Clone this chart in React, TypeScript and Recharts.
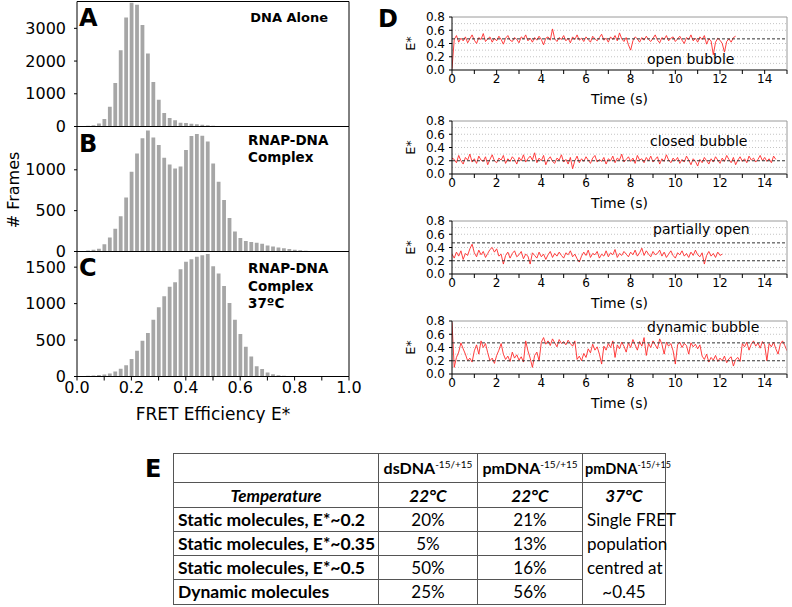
import React from "react";
import { BarChart, Bar, LineChart, Line, XAxis, YAxis, ReferenceLine } from "recharts";

// FRET histogram bins (bin centres, E*)
const binCenters = [
  0.0, 0.02, 0.04, 0.06, 0.08, 0.1, 0.12, 0.14, 0.16, 0.18,
  0.2, 0.22, 0.24, 0.26, 0.28, 0.3, 0.32, 0.34, 0.36, 0.38,
  0.4, 0.42, 0.44, 0.46, 0.48, 0.5, 0.52, 0.54, 0.56, 0.58,
  0.6, 0.62, 0.64, 0.66, 0.68, 0.7, 0.72, 0.74, 0.76, 0.78,
  0.8, 0.82, 0.84, 0.86, 0.88, 0.9, 0.92, 0.94, 0.96, 0.98,
];

const dnaAlone = [
  0, 15, 20, 40, 90, 230, 600, 1330, 2330, 3330,
  3780, 3720, 3100, 2230, 1360, 820, 410, 260, 190, 115,
  105, 85, 70, 50, 40, 25, 15, 10, 8, 5,
  0, 0, 0, 0, 0, 0, 0, 0, 0, 0,
  0, 0, 0, 0, 0, 0, 0, 0, 0, 0,
];

const rnapDna = [
  0, 5, 12, 20, 33, 90, 172, 279, 430, 660,
  976, 1200, 1386, 1480, 1394, 1304, 1148, 1066, 1017, 1041,
  1242, 1414, 1439, 1418, 1345, 1078, 853, 631, 410, 246,
  164, 127, 115, 107, 94, 74, 60, 50, 40, 30,
  22, 15, 10, 6, 4, 2, 0, 0, 0, 0,
];

const rnapDna37 = [
  0, 5, 9, 14, 19, 28, 42, 70, 106, 153,
  241, 352, 491, 597, 778, 949, 1102, 1232, 1292, 1472,
  1574, 1607, 1644, 1662, 1681, 1514, 1412, 1241, 1009, 778,
  583, 407, 273, 139, 102, 56, 30, 18, 12, 8,
  5, 3, 2, 1, 1, 0, 0, 0, 0, 0,
];

const eTicks = [0, 0.1, 0.2, 0.3, 0.4, 0.5, 0.6, 0.7, 0.8, 0.9, 1.0];

// single-molecule traces, one value every FRAME_S seconds
const FRAME_S = 0.1;

const openBubble = [
  0.02, 0.46, 0.52, 0.42, 0.48, 0.44, 0.5, 0.41, 0.47, 0.53,
  0.45, 0.4, 0.49, 0.46, 0.55, 0.43, 0.47, 0.5, 0.42, 0.48,
  0.44, 0.51, 0.46, 0.39, 0.48, 0.52, 0.45, 0.43, 0.49, 0.46,
  0.41, 0.5, 0.47, 0.53, 0.44, 0.48, 0.42, 0.49, 0.45, 0.51,
  0.46, 0.38, 0.48, 0.5, 0.45, 0.62, 0.47, 0.43, 0.49, 0.46,
  0.52, 0.44, 0.48, 0.41, 0.5, 0.46, 0.53, 0.45, 0.48, 0.43,
  0.5, 0.46, 0.42, 0.51, 0.47, 0.44, 0.49, 0.54, 0.45, 0.48,
  0.42, 0.5, 0.46, 0.52, 0.44, 0.56, 0.47, 0.43, 0.49, 0.38,
  0.3, 0.44, 0.5, 0.47, 0.42, 0.49, 0.45, 0.51, 0.46, 0.43,
  0.48, 0.53, 0.45, 0.41, 0.49, 0.46, 0.52, 0.44, 0.48, 0.5,
  0.43, 0.47, 0.51, 0.45, 0.4, 0.49, 0.46, 0.53, 0.44, 0.48,
  0.42, 0.5, 0.46, 0.52, 0.39, 0.47, 0.44, 0.23, 0.42, 0.48,
  0.45, 0.4, 0.27, 0.43, 0.47, 0.42, 0.49, 0.51,
];

const closedBubble = [
  0.24, 0.22, 0.17, 0.28, 0.2, 0.15, 0.25, 0.21, 0.3, 0.18,
  0.23, 0.16, 0.27, 0.21, 0.19, 0.26, 0.14, 0.22, 0.29, 0.2,
  0.17, 0.24, 0.21, 0.28, 0.16, 0.23, 0.19, 0.26, 0.22, 0.15,
  0.25, 0.2, 0.29, 0.18, 0.23, 0.27, 0.21, 0.32, 0.17, 0.24,
  0.2, 0.28, 0.14, 0.22, 0.26, 0.19, 0.16, 0.24, 0.21, 0.29,
  0.18, 0.22, 0.15, 0.25, 0.08, 0.2, 0.27, 0.17, 0.23, 0.19,
  0.26, 0.21, 0.16, 0.24, 0.28, 0.18, 0.22, 0.19, 0.25, 0.15,
  0.23, 0.2, 0.27, 0.17, 0.24, 0.21, 0.3, 0.18, 0.22, 0.26,
  0.19, 0.24, 0.16, 0.28, 0.21, 0.23, 0.17, 0.25, 0.2, 0.27,
  0.18, 0.22, 0.26, 0.15, 0.23, 0.19, 0.29, 0.21, 0.17, 0.24,
  0.2, 0.25, 0.16, 0.22, 0.18, 0.27, 0.21, 0.14, 0.23, 0.19,
  0.12, 0.22, 0.17, 0.25, 0.2, 0.15, 0.23, 0.18, 0.26, 0.21,
  0.16, 0.24, 0.19, 0.28, 0.22, 0.17, 0.25, 0.14, 0.21, 0.26,
  0.19, 0.23, 0.17, 0.27, 0.21, 0.24, 0.18, 0.22, 0.28, 0.2,
  0.25, 0.19, 0.23, 0.17, 0.27, 0.22,
];

const partiallyOpen = [
  0.3, 0.24, 0.33, 0.27, 0.35, 0.22, 0.31, 0.28, 0.38, 0.45,
  0.32, 0.26, 0.36, 0.29, 0.34, 0.25, 0.31, 0.37, 0.4, 0.33,
  0.38, 0.27, 0.3, 0.15, 0.28, 0.33, 0.24, 0.31, 0.35, 0.26,
  0.29, 0.34, 0.23, 0.3, 0.27, 0.15, 0.32, 0.28, 0.24, 0.33,
  0.26, 0.3, 0.22, 0.29, 0.34, 0.25, 0.31, 0.27, 0.33, 0.28,
  0.24, 0.32, 0.29, 0.35, 0.26, 0.3, 0.23, 0.18, 0.27, 0.33,
  0.28, 0.36, 0.25, 0.31, 0.29, 0.34, 0.24, 0.3, 0.27, 0.35,
  0.26, 0.32, 0.29, 0.37, 0.25, 0.31, 0.28, 0.34, 0.3, 0.26,
  0.33, 0.29, 0.36, 0.27, 0.32, 0.39, 0.28, 0.35, 0.3, 0.26,
  0.34, 0.29, 0.31, 0.36, 0.27, 0.33, 0.25, 0.3, 0.35, 0.28,
  0.24, 0.32, 0.29, 0.35, 0.27, 0.31, 0.25, 0.33, 0.28, 0.36,
  0.29, 0.26, 0.32, 0.15, 0.28, 0.34, 0.27, 0.31, 0.25, 0.33,
  0.28, 0.3,
];

const dynamicBubble = [
  0.78, 0.1, 0.25, 0.33, 0.47, 0.38, 0.3, 0.2, 0.24, 0.18,
  0.35, 0.44, 0.3, 0.5, 0.4, 0.46, 0.32, 0.2, 0.24, 0.16,
  0.28, 0.36, 0.46, 0.3, 0.22, 0.27, 0.19, 0.33, 0.24, 0.29,
  0.21, 0.26, 0.18, 0.5, 0.35, 0.24, 0.1, 0.28, 0.33, 0.2,
  0.48, 0.55, 0.45, 0.5, 0.43, 0.53, 0.47, 0.41, 0.52, 0.46,
  0.49, 0.44, 0.51, 0.46, 0.42, 0.5, 0.22, 0.27, 0.2, 0.31,
  0.25, 0.38, 0.32, 0.45, 0.36, 0.41, 0.3, 0.15, 0.42, 0.36,
  0.46, 0.4, 0.5, 0.25, 0.44, 0.38, 0.48, 0.42, 0.33, 0.47,
  0.4, 0.52, 0.44, 0.36, 0.49, 0.42, 0.55, 0.28, 0.46, 0.4,
  0.5, 0.44, 0.38, 0.53, 0.45, 0.3, 0.48, 0.42, 0.46, 0.35,
  0.15, 0.44, 0.48, 0.4, 0.46, 0.43, 0.3, 0.47, 0.41, 0.45,
  0.38, 0.44, 0.27, 0.22, 0.3, 0.18, 0.25, 0.21, 0.28, 0.19,
  0.24, 0.2, 0.27, 0.17, 0.23, 0.26, 0.12, 0.22, 0.25, 0.19,
  0.46, 0.41, 0.48, 0.36, 0.45, 0.5, 0.42, 0.47, 0.39, 0.49,
  0.44, 0.2, 0.46, 0.41, 0.48, 0.38, 0.3, 0.45, 0.5, 0.43,
  0.35,
];

const timeTicks = [0, 1, 2, 3, 4, 5, 6, 7, 8, 9, 10, 11, 12, 13, 14, 15];
const eStarTicks = [0, 0.2, 0.4, 0.6, 0.8];

// table E
const tableRowLabels = [
  "Static molecules, E*~0.2",
  "Static molecules, E*~0.35",
  "Static molecules, E*~0.5",
  "Dynamic molecules",
];
const dsDnaPct = ["20%", "5%", "50%", "25%"];
const pmDnaPct = ["21%", "13%", "16%", "56%"];
const pm37Lines = ["Single FRET", "population", "centred at", "~0.45"];

const histData = binCenters.map((e, i) => ({
  e,
  a: dnaAlone[i],
  b: rnapDna[i],
  c: rnapDna37[i],
}));

const FONT = "DejaVu Sans";

function Histogram({
  top,
  dataKey,
  yMax,
  yTicks,
  showX,
  marginTop,
}: {
  top: number;
  dataKey: string;
  yMax: number;
  yTicks: number[];
  showX: boolean;
  marginTop: number;
}) {
  const xHeight = showX ? 46 : 8;
  return (
    <div style={{ position: "absolute", left: 0, top }}>
      <BarChart
        width={372}
        height={marginTop + 125 + xHeight}
        data={histData}
        margin={{ top: marginTop, right: 23, bottom: 0, left: 0 }}
      >
        <XAxis
          dataKey="e"
          type="number"
          domain={[0, 1]}
          ticks={eTicks}
          interval={0}
          allowDataOverflow
          height={xHeight}
          stroke="#000"
          tickSize={4}
          tickMargin={1}
          tick={showX ? { fill: "#000", fontSize: 16, fontFamily: FONT } : false}
          tickFormatter={(v: number) =>
            Math.round(v * 10) % 2 === 0 ? v.toFixed(1) : ""
          }
          label={
            showX
              ? {
                  value: "FRET Efficiency E*",
                  position: "insideBottom",
                  offset: 3,
                  style: { fill: "#000", fontSize: 17, fontFamily: FONT },
                }
              : undefined
          }
        />
        <XAxis
          xAxisId="top"
          orientation="top"
          mirror
          type="number"
          domain={[0, 1]}
          ticks={eTicks}
          interval={0}
          allowDataOverflow
          stroke="#000"
          tickSize={4}
          tick={false}
        />
        <YAxis
          type="number"
          domain={[0, yMax]}
          ticks={yTicks}
          interval={0}
          allowDataOverflow
          width={77}
          stroke="#000"
          tickSize={3}
          tickMargin={8}
          tick={{ fill: "#000", fontSize: 16, fontFamily: FONT }}
        />
        <YAxis
          yAxisId="right"
          orientation="right"
          mirror
          type="number"
          domain={[0, yMax]}
          ticks={yTicks}
          interval={0}
          allowDataOverflow
          stroke="#000"
          tickSize={4}
          tick={false}
        />
        <Bar dataKey={dataKey} fill="#a6a6a6" barSize={3.8} isAnimationActive={false} />
      </BarChart>
    </div>
  );
}

function TracePanel({
  top,
  values,
  dashed,
}: {
  top: number;
  values: number[];
  dashed: number[];
}) {
  const data = values.map((v, i) => ({ t: Math.round(i * FRAME_S * 100) / 100, v }));
  const grid = [0.1, 0.2, 0.3, 0.4, 0.5, 0.6, 0.7].filter(
    (g) => !dashed.some((d) => Math.abs(d - g) < 0.05)
  );
  return (
    <div style={{ position: "absolute", left: 400, top }}>
      <LineChart
        width={392}
        height={100}
        data={data}
        margin={{ top: 7, right: 5, bottom: 0, left: 0 }}
      >
        <XAxis
          dataKey="t"
          type="number"
          domain={[0, 15]}
          ticks={timeTicks}
          interval={0}
          allowDataOverflow
          height={40}
          stroke="#000"
          tickSize={4}
          tickMargin={0}
          tick={{ fill: "#000", fontSize: 12, fontFamily: FONT }}
          tickFormatter={(v: number) => (v % 2 === 0 && v < 15 ? String(v) : "")}
          label={{
            value: "Time (s)",
            position: "insideBottom",
            offset: 6,
            style: { fill: "#000", fontSize: 14, fontFamily: FONT },
          }}
        />
        <XAxis
          xAxisId="top"
          orientation="top"
          mirror
          type="number"
          domain={[0, 15]}
          ticks={timeTicks}
          allowDataOverflow
          stroke="#9a9a9a"
          tickLine={false}
          tick={false}
        />
        <YAxis
          type="number"
          domain={[0, 0.8]}
          ticks={eStarTicks}
          interval={0}
          allowDataOverflow
          width={52}
          stroke="#000"
          tickSize={3}
          tickMargin={4}
          tick={{ fill: "#000", fontSize: 12, fontFamily: FONT }}
          tickFormatter={(v: number) => v.toFixed(1)}
          label={{
            value: "E*",
            angle: -90,
            position: "insideLeft",
            offset: 10,
            style: { fill: "#000", fontSize: 13, fontFamily: FONT, textAnchor: "middle" },
          }}
        />
        <YAxis
          yAxisId="right"
          orientation="right"
          mirror
          type="number"
          domain={[0, 0.8]}
          ticks={[0, 0.1, 0.2, 0.3, 0.4, 0.5, 0.6, 0.7, 0.8]}
          interval={0}
          allowDataOverflow
          stroke="#9a9a9a"
          tickSize={3}
          tick={false}
        />
        {grid.map((g) => (
          <ReferenceLine key={`g${g}`} y={g} stroke="#c4c4c4" strokeDasharray="1 2" />
        ))}
        <Line
          dataKey="v"
          stroke="#ff2a2a"
          strokeWidth={0.9}
          dot={false}
          isAnimationActive={false}
        />
        {dashed.map((d) => (
          <ReferenceLine key={`d${d}`} y={d} stroke="#333" strokeDasharray="3 2" />
        ))}
      </LineChart>
    </div>
  );
}

const cell: React.CSSProperties = {
  border: "1px solid #555",
  padding: "0 4px",
  textAlign: "center",
  whiteSpace: "nowrap",
};

const sup: React.CSSProperties = { fontSize: 10, fontWeight: 400 };

function ResultsTable() {
  return (
    <table
      style={{
        position: "absolute",
        left: 173,
        top: 453,
        borderCollapse: "collapse",
        fontFamily: "Lato",
        fontSize: 17,
        color: "#000",
        tableLayout: "fixed",
        width: 492,
      }}
    >
      <colgroup>
        <col style={{ width: 205 }} />
        <col style={{ width: 99 }} />
        <col style={{ width: 105 }} />
        <col style={{ width: 83 }} />
      </colgroup>
      <tbody>
        <tr style={{ height: 29, fontWeight: 700, fontSize: 16 }}>
          <td style={cell}></td>
          <td style={{ ...cell, padding: 0 }}>
            dsDNA<sup style={sup}>-15/+15</sup>
          </td>
          <td style={{ ...cell, padding: 0 }}>
            pmDNA<sup style={sup}>-15/+15</sup>
          </td>
          <td style={{ ...cell, padding: "0 0 0 2px", textAlign: "left", fontSize: 14.5 }}>
            pmDNA<sup style={{ ...sup, fontSize: 9 }}>-15/+15</sup>
          </td>
        </tr>
        <tr style={{ height: 25, fontWeight: 700, fontStyle: "italic" }}>
          <td style={cell}>Temperature</td>
          <td style={cell}>22°C</td>
          <td style={cell}>22°C</td>
          <td style={{ ...cell, borderBottom: "none" }}>37°C</td>
        </tr>
        {tableRowLabels.map((label, i) => (
          <tr key={label} style={{ height: 24 }}>
            <td style={{ ...cell, textAlign: "left", fontWeight: 700, fontSize: 17.5 }}>{label}</td>
            <td style={cell}>{dsDnaPct[i]}</td>
            <td style={cell}>{pmDnaPct[i]}</td>
            {i === 0 && (
              <td
                rowSpan={4}
                style={{ ...cell, borderTop: "none", verticalAlign: "top", lineHeight: "24px" }}
              >
                {pm37Lines.map((l) => (
                  <div key={l}>{l}</div>
                ))}
              </td>
            )}
          </tr>
        ))}
      </tbody>
    </table>
  );
}

export default function App() {
  const bold = { fontFamily: FONT, fontWeight: 700, fill: "#000" } as const;
  const note = { fontFamily: FONT, fontSize: 14, fill: "#000" } as const;
  return (
    <div
      style={{
        position: "absolute",
        left: 0,
        top: 0,
        width: 792,
        height: 607,
        background: "#fff",
        overflow: "hidden",
      }}
    >
      <Histogram top={0} dataKey="a" yMax={3820} yTicks={[0, 1000, 2000, 3000]} showX={false} marginTop={1.5} />
      <Histogram top={120} dataKey="b" yMax={1530} yTicks={[0, 500, 1000]} showX={false} marginTop={6.5} />
      <Histogram top={245} dataKey="c" yMax={1715} yTicks={[0, 500, 1000, 1500]} showX marginTop={6.5} />

      <TracePanel top={10} values={openBubble} dashed={[0.47]} />
      <TracePanel top={114} values={closedBubble} dashed={[0.2]} />
      <TracePanel top={214} values={partiallyOpen} dashed={[0.47, 0.2]} />
      <TracePanel top={314} values={dynamicBubble} dashed={[0.47, 0.2]} />

      <ResultsTable />

      <svg
        width={792}
        height={607}
        style={{ position: "absolute", left: 0, top: 0, pointerEvents: "none" }}
      >
        <text x={79} y={26} fontSize={24} {...bold}>A</text>
        <text x={79} y={152} fontSize={24} {...bold}>B</text>
        <text x={79} y={276} fontSize={24} {...bold}>C</text>
        <text x={378} y={27} fontSize={24} {...bold}>D</text>
        <text x={145} y={477} fontSize={24} {...bold}>E</text>

        <text x={328} y={22} fontSize={13} textAnchor="end" {...bold}>DNA Alone</text>
        <text x={248} y={145} fontSize={13.5} {...bold}>RNAP-DNA</text>
        <text x={248} y={162} fontSize={13.5} {...bold}>Complex</text>
        <text x={248} y={273} fontSize={13.5} {...bold}>RNAP-DNA</text>
        <text x={248} y={291} fontSize={13.5} {...bold}>Complex</text>
        <text x={248} y={308} fontSize={13.5} {...bold}>37ºC</text>

        <text
          x={14}
          y={190}
          fontSize={16}
          fontFamily={FONT}
          textAnchor="middle"
          dominantBaseline="middle"
          transform="rotate(-90 14 190)"
        >
          # Frames
        </text>

        <text x={647} y={64} {...note}>open bubble</text>
        <text x={650} y={146} {...note}>closed bubble</text>
        <text x={653} y={234} {...note}>partially open</text>
        <text x={647} y={332} {...note}>dynamic bubble</text>
      </svg>
    </div>
  );
}
